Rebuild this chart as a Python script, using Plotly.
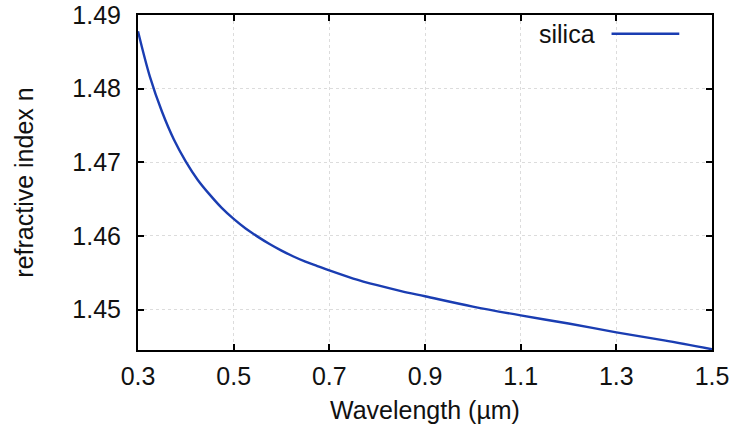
import plotly.graph_objects as go

# Refractive index of fused silica versus wavelength
wavelength_um = [0.30, 0.325, 0.35, 0.375, 0.40, 0.425, 0.45, 0.475, 0.50, 0.525, 0.55, 0.575,
                 0.60, 0.625, 0.65, 0.675, 0.70, 0.75, 0.80, 0.85, 0.90, 1.00, 1.10, 1.20,
                 1.30, 1.40, 1.50]
n_silica = [1.4878, 1.4816, 1.4769, 1.4731, 1.4701, 1.4676, 1.4656, 1.4638, 1.4623, 1.4610,
            1.4599, 1.4589, 1.4580, 1.4572, 1.4565, 1.4559, 1.4553, 1.4542, 1.4533, 1.4525,
            1.4518, 1.4504, 1.4492, 1.4481, 1.4469, 1.4458, 1.4446]

x_ticks = [0.3, 0.5, 0.7, 0.9, 1.1, 1.3, 1.5]
y_ticks = [1.45, 1.46, 1.47, 1.48, 1.49]

FONT = "Liberation Sans, Arial, sans-serif"
TEXT_COLOR = "#111"
LINE_COLOR = "#1a3db2"
FONT_SIZE = 25

fig = go.Figure()
fig.add_trace(go.Scatter(
    x=wavelength_um, y=n_silica, mode="lines", name="silica",
    line=dict(color=LINE_COLOR, width=2.4, shape="spline", smoothing=1.0),
    showlegend=False,
))

axis_common = dict(
    showline=True, linecolor="black", linewidth=2, mirror="ticks",
    ticks="inside", ticklen=6, tickwidth=1.5, tickcolor="black",
    showgrid=True, gridcolor="#dcdcdc", griddash="dot", gridwidth=1,
    zeroline=False, automargin=False,
    tickfont=dict(family=FONT, size=FONT_SIZE, color=TEXT_COLOR),
)

fig.update_xaxes(
    range=[0.3, 1.5], tickvals=x_ticks, ticktext=[f"{v:.1f}" for v in x_ticks],
    ticklabelstandoff=3,
    title=dict(text="Wavelength (µm)", font=dict(family=FONT, size=FONT_SIZE, color=TEXT_COLOR), standoff=12),
    **axis_common,
)
fig.update_yaxes(
    range=[1.4445, 1.49], tickvals=y_ticks, ticktext=[f"{v:.2f}" for v in y_ticks],
    ticklabelstandoff=10,
    title=dict(text="refractive index n", font=dict(family=FONT, size=FONT_SIZE, color=TEXT_COLOR), standoff=32),
    **axis_common,
)

# Key: label followed by a line sample, top right inside the frame
fig.add_annotation(
    xref="paper", yref="paper", x=0.799, y=0.944, xanchor="right", yanchor="middle",
    text="silica", showarrow=False, font=dict(family=FONT, size=FONT_SIZE, color=TEXT_COLOR),
)
fig.add_shape(
    type="line", xref="paper", yref="paper", x0=0.825, x1=0.943, y0=0.944, y1=0.944,
    line=dict(color=LINE_COLOR, width=2.4),
)

fig.update_layout(
    width=735, height=434,
    margin=dict(l=138, r=23, t=15, b=84),
    paper_bgcolor="white", plot_bgcolor="white",
    font=dict(family=FONT, size=FONT_SIZE, color=TEXT_COLOR),
)

fig.write_html("out.html")
